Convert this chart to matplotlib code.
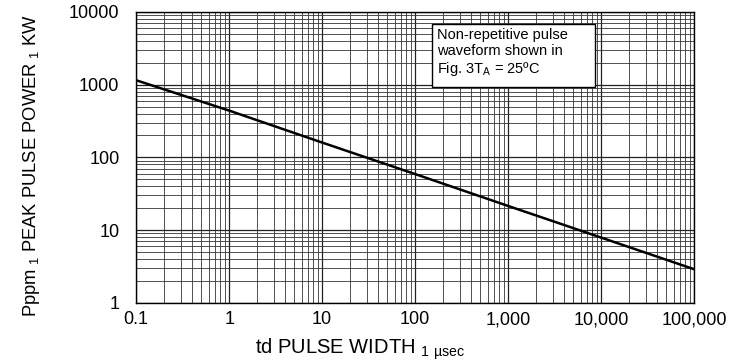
import matplotlib.pyplot as plt
from matplotlib.patches import Rectangle
from matplotlib.ticker import FixedLocator, FixedFormatter, LogLocator, NullFormatter

plt.rcParams['font.family'] = ['Liberation Sans', 'DejaVu Sans']

# pulse width (usec) and peak pulse power (kW)
td = [0.1, 1, 10, 100, 1000, 10000, 100000]
ppk = [1150, 440, 160, 59, 21.5, 7.9, 2.9]

x_ticks = [0.1, 1, 10, 100, 1000, 10000, 100000]
x_labels = ['0.1', '1', '10', '100', '1,000', '10,000', '100,000']
y_ticks = [1, 10, 100, 1000, 10000]
y_labels = ['1', '10', '100', '1000', '10000']

fig = plt.figure(figsize=(7.48, 3.61), dpi=100)
ax = fig.add_axes([0.182, 0.161, 0.746, 0.806])

ax.set_xscale('log')
ax.set_yscale('log')
ax.set_xlim(0.1, 100000)
ax.set_ylim(1, 10000)

ax.plot(td, ppk, color='black', lw=1.8, zorder=3)

ax.xaxis.set_major_locator(FixedLocator(x_ticks))
ax.xaxis.set_major_formatter(FixedFormatter(x_labels))
ax.yaxis.set_major_locator(FixedLocator(y_ticks))
ax.yaxis.set_major_formatter(FixedFormatter(y_labels))
ax.xaxis.set_minor_locator(LogLocator(base=10, subs=range(2, 10), numticks=20))
ax.yaxis.set_minor_locator(LogLocator(base=10, subs=range(2, 10), numticks=20))
ax.xaxis.set_minor_formatter(NullFormatter())
ax.yaxis.set_minor_formatter(NullFormatter())

ax.grid(which='major', color='#222222', lw=0.9)
ax.grid(which='minor', color='#333333', lw=0.6)
ax.tick_params(which='both', length=0)
ax.tick_params(axis='x', labelsize=13, pad=6)
ax.tick_params(axis='y', labelsize=13, pad=12)
for s in ax.spines.values():
    s.set_linewidth(1.0)

# axis titles placed where the original puts them
fig.text(360 / 748, 1 - 349 / 361, 'td PULSE WIDTH $_{\\mathregular{1\\ \u00b5sec}}$',
         ha='center', va='center', fontsize=14.5)
fig.text(32 / 748, 1 - 166 / 361,
         'Pppm$_{\\mathregular{\\ 1}}$ PEAK PULSE POWER$_{\\mathregular{\\ 1}}$ KW',
         ha='center', va='center', rotation=90, fontsize=13.2)

# note box
ax.add_patch(Rectangle((0.53, 0.742), 0.293, 0.217, transform=ax.transAxes,
                       fc='white', ec='black', lw=1.0, zorder=5))
ax.text(0.539, 0.945, 'Non-repetitive pulse\nwaveform shown in\nFig. 3T$_{\\mathregular{A}}$ = 25\u00baC',
        transform=ax.transAxes, ha='left', va='top', fontsize=10.5, linespacing=1.15, zorder=6)

fig.savefig('out.png', dpi=100)
